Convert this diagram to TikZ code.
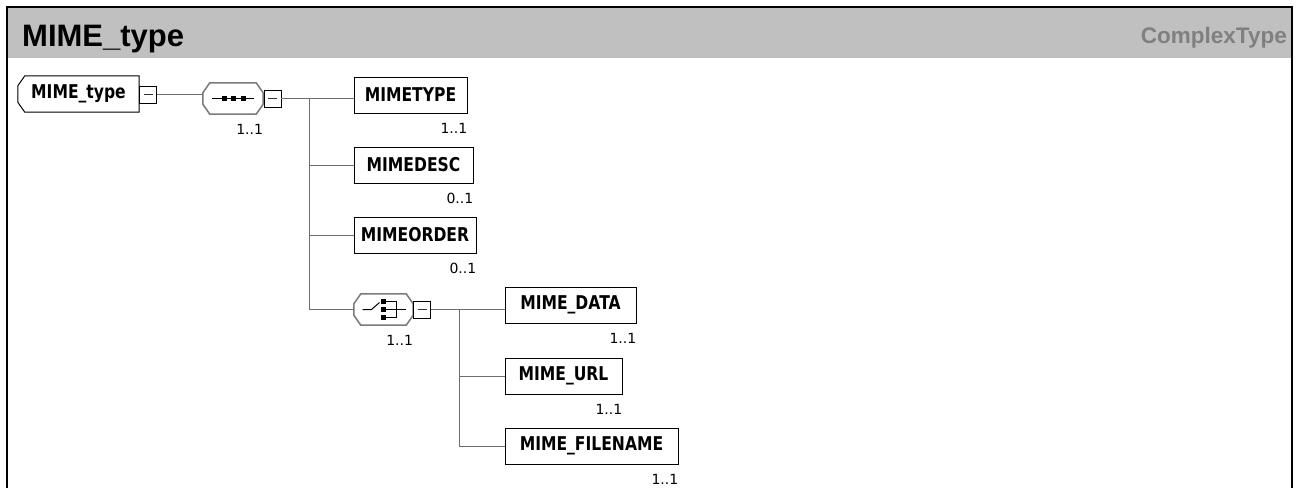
\documentclass[tikz,border=0pt]{standalone}
\usepackage{fontspec}
\setmainfont{Liberation Sans}
\newfontfamily\cardfont{DejaVu Sans}
\newfontfamily\nodefont[FakeStretch=0.82]{DejaVu Sans}
\usetikzlibrary{calc}
\definecolor{hdr}{HTML}{C0C0C0}
\definecolor{ctype}{HTML}{808080}
\definecolor{connc}{HTML}{6E6E6E}
\definecolor{octc}{HTML}{7A7A7A}
\begin{document}
\begin{tikzpicture}[x=1pt,y=-1pt,
  elem/.style={draw=black,line width=1pt,fill=white,rectangle,minimum height=36pt,inner sep=0pt,font=\nodefont\fontsize{19}{22}\selectfont\bfseries},
  rootelem/.style={rectangle,minimum height=36pt,inner sep=0pt,font=\nodefont\fontsize{19}{22}\selectfont\bfseries},
  minusbox/.style={draw=black,line width=0.9pt,fill=white,minimum width=17pt,minimum height=17pt,inner sep=0pt},
  comp/.style={rectangle,minimum width=60pt,minimum height=31pt,inner sep=0pt},
  octline/.style={draw=octc,line width=1.5pt,fill=white},
  conn/.style={draw=connc,line width=1pt},
  card/.style={font=\cardfont\fontsize{14}{16}\selectfont,inner sep=0pt,anchor=base east},
  sym/.style={draw=black,line width=1pt},
  minussign/.style={draw=black!80,line width=1pt},
]
\useasboundingbox (0,0) rectangle (1298,488);
% header and frame
\fill[hdr] (7,7) rectangle (1292,58);
\draw[line width=2pt] (7,488) -- (7,7) -- (1292,7) -- (1292,488);
\node[anchor=base west,font=\fontsize{31}{34}\selectfont\bfseries,inner sep=0pt] (title) at (22,46) {MIME\_type};
\node[anchor=base east,font=\fontsize{22.5}{26}\selectfont\bfseries,text=ctype,inner sep=0pt] (ctypelbl) at (1287,43) {ComplexType};

% root element
\node[rootelem,minimum width=121pt] (root) at (78.5,94) {};
\draw[line width=1pt,fill=white] ([xshift=7pt]root.north west) -- (root.north east) -- (root.south east) -- ([xshift=7pt]root.south west) -- ([yshift=10pt]root.south west) -- ([yshift=-10pt]root.north west) -- cycle;
\node[rootelem] (roottxt) at (root.center) {MIME\_type};
\node[minusbox] (rootm) at (148,94.5) {};
\draw[minussign] ($(rootm.center)+(-4.5,0)$) -- ($(rootm.center)+(4.5,0)$);

% sequence compositor
\node[comp] (seq) at (233,98.5) {};
\draw[octline] ([xshift=7pt]seq.north west) -- ([xshift=-7pt]seq.north east) -- ([yshift=-10pt]seq.north east) -- ([yshift=10pt]seq.south east) -- ([xshift=-7pt]seq.south east) -- ([xshift=7pt]seq.south west) -- ([yshift=10pt]seq.south west) -- ([yshift=-10pt]seq.north west) -- cycle;
\draw[sym] ($(seq.center)+(-21,0)$) -- ($(seq.center)+(21,0)$);
\foreach \dx in {-9,0.5,10}{
  \fill ($(seq.center)+(\dx-2.5,-2.5)$) rectangle ($(seq.center)+(\dx+2.5,2.5)$);
}
\node[minusbox] (seqm) at (272.5,98.5) {};
\draw[minussign] ($(seqm.center)+(-4.5,0)$) -- ($(seqm.center)+(4.5,0)$);
\node[card] (seqc) at ($(seq.south east)+(0,20)$) {1..1};

% children of sequence
\node[elem,minimum width=113pt] (mimetype) at (410.5,95) {MIMETYPE};
\node[elem,minimum width=119pt] (mimedesc) at (413.5,165) {MIMEDESC};
\node[elem,minimum width=122pt] (mimeorder) at (415,235) {MIMEORDER};
\node[card] (mimetypec) at ($(mimetype.south east)+(0,20)$) {1..1};
\node[card] (mimedescc) at ($(mimedesc.south east)+(0,20)$) {0..1};
\node[card] (mimeorderc) at ($(mimeorder.south east)+(0,20)$) {0..1};

% choice compositor
\node[comp,minimum width=59pt] (choice) at (383.5,309.5) {};
\draw[octline] ([xshift=7pt]choice.north west) -- ([xshift=-7pt]choice.north east) -- ([yshift=-10pt]choice.north east) -- ([yshift=10pt]choice.south east) -- ([xshift=-7pt]choice.south east) -- ([xshift=7pt]choice.south west) -- ([yshift=10pt]choice.south west) -- ([yshift=-10pt]choice.north west) -- cycle;
\draw[sym] ($(choice.center)+(-21,0)$) -- ($(choice.center)+(-12,0)$) -- ($(choice.center)+(-4,-7)$);
\foreach \dy in {-8,0,8}{
  \fill ($(choice.center)+(-2.5,\dy-2.5)$) rectangle ($(choice.center)+(2,\dy+2.5)$);
  \draw[sym] ($(choice.center)+(2,\dy)$) -- ($(choice.center)+(13,\dy)$);
}
\draw[sym] ($(choice.center)+(13,-8)$) -- ($(choice.center)+(13,8)$);
\draw[sym] ($(choice.center)+(13,0)$) -- ($(choice.center)+(22,0)$);
\node[minusbox] (choicem) at (422,309.5) {};
\draw[minussign] ($(choicem.center)+(-4.5,0)$) -- ($(choicem.center)+(4.5,0)$);
\node[card] (choicec) at ($(choice.south east)+(0,20)$) {1..1};

% children of choice
\node[elem,minimum width=131pt] (mimedata) at (570.5,305) {MIME\_DATA};
\node[elem,minimum width=117pt] (mimeurl) at (563.5,376) {MIME\_URL};
\node[elem,minimum width=173pt] (mimefile) at (591.5,446) {MIME\_FILENAME};
\node[card] (mimedatac) at ($(mimedata.south east)+(0,20)$) {1..1};
\node[card] (mimeurlc) at ($(mimeurl.south east)+(0,20)$) {1..1};
\node[card] (mimefilec) at ($(mimefile.south east)+(0,20)$) {1..1};

% connectors
\coordinate (t1) at (309,0);
\coordinate (t2) at (459,0);
\draw[conn] (rootm.east) -- (rootm.east -| seq.west);
\draw[conn] (seqm.east) -- (seqm.east -| mimetype.west);
\draw[conn] (t1 |- seqm.east) -- (t1 |- choice.west) -- (choice.west);
\draw[conn] (t1 |- mimedesc.west) -- (mimedesc.west);
\draw[conn] (t1 |- mimeorder.west) -- (mimeorder.west);
\draw[conn] (choicem.east) -- (choicem.east -| mimedata.west);
\draw[conn] (t2 |- choicem.east) -- (t2 |- mimefile.west) -- (mimefile.west);
\draw[conn] (t2 |- mimeurl.west) -- (mimeurl.west);
\end{tikzpicture}
\end{document}
